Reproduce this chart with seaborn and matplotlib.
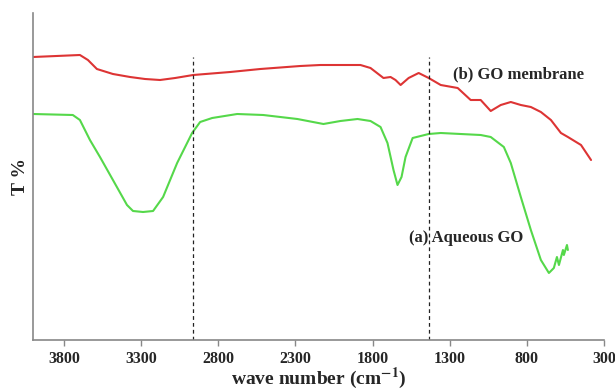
import matplotlib
matplotlib.use("Agg")
import matplotlib.pyplot as plt
import seaborn as sns
import pandas as pd

# (b) GO membrane
wn_b = [4000, 3696, 3644, 3586, 3482, 3371, 3274, 3177, 3079, 2962, 2722, 2527, 2268,
        2138, 1878, 1813, 1729, 1683, 1651, 1618, 1566, 1501, 1436, 1358, 1248, 1164,
        1099, 1034, 969, 904, 839, 774, 709, 644, 579, 534, 449, 384]
t_b = [283, 285, 280, 271, 266, 263, 261, 260, 262, 265, 268, 271, 274,
       275, 275, 272, 262, 263, 260, 255, 262, 267, 262, 255, 252, 240,
       240, 229, 235, 238, 235, 233, 228, 220, 207, 203, 195, 180]

# (a) Aqueous GO
wn_a = [4000, 3742, 3696, 3631, 3566, 3482, 3391, 3352, 3287, 3222, 3157, 3066, 2969,
        2917, 2839, 2677, 2508, 2287, 2118, 2008, 1897, 1813, 1748, 1703, 1664, 1638,
        1612, 1586, 1540, 1488, 1436, 1358, 1099, 1034, 949, 904, 839, 774, 709, 657,
        625, 605, 592, 566, 560, 540, 534]
t_a = [226, 225, 220, 200, 183, 160, 135, 129, 128, 129, 143, 177, 207,
       218, 222, 226, 225, 221, 216, 219, 221, 219, 213, 197, 170, 155,
       163, 183, 202, 204, 206, 207, 205, 203, 193, 177, 143, 110, 80, 67,
       72, 83, 75, 90, 85, 95, 90]

ref_lines = [2962, 1436]
ref_top = 283
xticks = [3800, 3300, 2800, 2300, 1800, 1300, 800, 300]

df_b = pd.DataFrame({"wn": wn_b, "T": t_b})
df_a = pd.DataFrame({"wn": wn_a, "T": t_a})

sns.set_style("white")
plt.rcParams["font.family"] = ["Liberation Serif", "DejaVu Serif"]
plt.rcParams["mathtext.fontset"] = "stix"

fig = plt.figure(figsize=(6.15, 3.9), dpi=100)
ax = fig.add_axes([33/615, 50/390, 571/615, 327/390])

sns.lineplot(data=df_b, x="wn", y="T", ax=ax, color="#dd3434", lw=1.5, sort=False)
sns.lineplot(data=df_a, x="wn", y="T", ax=ax, color="#55d84a", lw=1.5, sort=False)

ax.vlines(ref_lines, 0, ref_top, colors="#222222", linestyles=(0, (3, 2.5)), lw=0.9)

ax.set_xlim(4000, 300)
ax.set_ylim(0, 327)
ax.set_xticks(xticks)
ax.set_xticklabels([str(v) for v in xticks], fontsize=11.5, fontweight="bold")
ax.set_yticks([])
ax.tick_params(axis="x", direction="out", length=4, width=1, color="#888888",
               pad=4, bottom=True)
for s in ["top", "right"]:
    ax.spines[s].set_visible(False)
for s in ["left", "bottom"]:
    ax.spines[s].set_color("#888888")
    ax.spines[s].set_linewidth(1.2)

ax.set_xlabel("wave number (cm$^{\\mathbf{-1}}$)", fontsize=14, fontweight="bold", labelpad=-1)
ax.set_ylabel("T %", fontsize=14, fontweight="bold", labelpad=3)

ax.text(1281, 266, "(b) GO membrane", fontsize=12, fontweight="bold", va="center", ha="left")
ax.text(1566, 102, "(a) Aqueous GO", fontsize=12, fontweight="bold", va="center", ha="left")

fig.savefig("out.png", dpi=100)
